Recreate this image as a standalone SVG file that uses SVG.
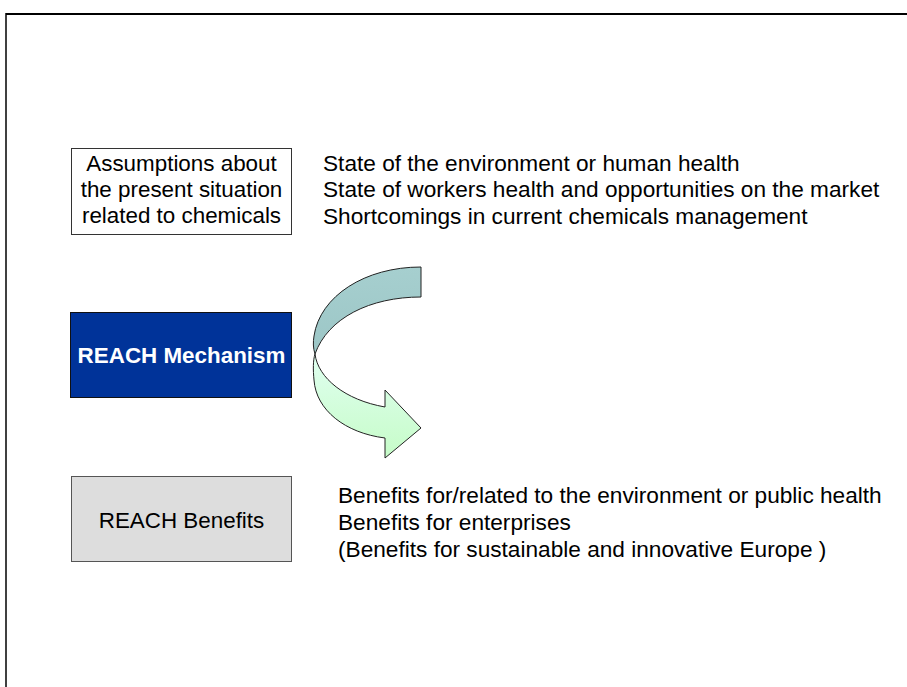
<svg xmlns="http://www.w3.org/2000/svg" width="907" height="687" viewBox="0 0 907 687">
<style>
text{font-family:"Liberation Sans",Arial,sans-serif;font-size:22.4px;fill:#000}
.r{font-size:22.65px}
.c{text-anchor:middle}
.box{stroke:#333;stroke-width:1}
.arr{stroke:#222;stroke-width:1;stroke-linejoin:round}
</style>
<defs>
<linearGradient id="gTop" x1="0" y1="0" x2="0" y2="1">
<stop offset="0" stop-color="#a6cfcf"/>
<stop offset="1" stop-color="#9cc6c6"/>
</linearGradient>
<linearGradient id="gBot" x1="0" y1="0" x2="0" y2="1">
<stop offset="0" stop-color="#e0fff0"/>
<stop offset="1" stop-color="#c6fcc8"/>
</linearGradient>
</defs>
<rect width="907" height="687" fill="#fff"/>
<g id="frame">
<line x1="6" y1="14" x2="907" y2="14" stroke="#000" stroke-width="2"/>
<line x1="6" y1="13" x2="6" y2="687" stroke="#000" stroke-width="1.5"/>
</g>
<g id="assumptions">
<rect class="box" x="71.5" y="148.5" width="220" height="86" fill="#fff"/>
<text class="c" x="181.5" y="171">Assumptions about</text>
<text class="c" x="181.5" y="197">the present situation</text>
<text class="c" x="181.5" y="223">related to chemicals</text>
</g>
<g id="mechanism">
<rect x="70.5" y="312.5" width="221" height="85" fill="#003399" stroke="#111" stroke-width="1"/>
<text class="c" x="181.5" y="363" style="font-weight:bold;fill:#fff">REACH Mechanism</text>
</g>
<g id="benefits">
<rect x="71.5" y="476.5" width="220" height="85" fill="#dddddd" stroke="#555" stroke-width="1"/>
<text class="c" x="181.5" y="528">REACH Benefits</text>
</g>
<g id="situation-text">
<text class="r" x="323" y="171">State of the environment or human health</text>
<text class="r" x="323" y="197">State of workers health and opportunities on the market</text>
<text class="r" x="323" y="224">Shortcomings in current chemicals management</text>
</g>
<g id="benefits-text">
<text class="r" x="338" y="503">Benefits for/related to the environment or public health</text>
<text class="r" x="338" y="530">Benefits for enterprises</text>
<text class="r" x="338" y="557">(Benefits for sustainable and innovative Europe )</text>
</g>
<g id="connectors">
<path class="arr" fill="url(#gTop)" d="M421,267 L421,297 C370,297 328,318 315,354 C313,348 313,342 314,336 C320,296 365,267 421,267 Z"/>
<path class="arr" fill="url(#gBot)" d="M315,354 C318,378 345,400 385,407 L385,390 L421,428 L385,458 L385,438 C345,433 316,410 314,380 C313,370 313,360 315,354 Z"/>
</g>
</svg>
